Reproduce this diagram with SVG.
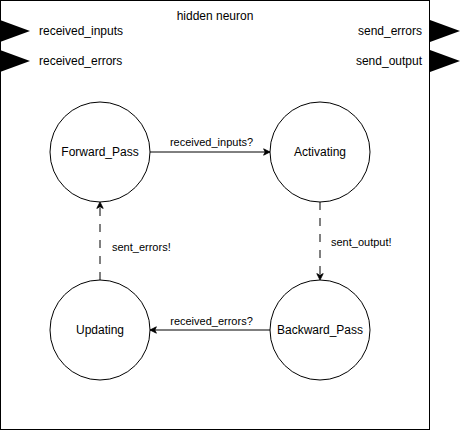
<svg xmlns="http://www.w3.org/2000/svg" width="461" height="431" viewBox="0 0 461 431">
<style>
text{font-family:"Liberation Sans",Arial,sans-serif;fill:#000}
.n{font-size:12px;text-anchor:middle}
.e{font-size:11px}
.st{fill:#fff;stroke:#000;stroke-width:1}
.c{fill:none;stroke:#000;stroke-width:1}
.d{stroke-dasharray:8 8}
</style>
<defs>
<marker id="a" viewBox="0 0 10 10" refX="9" refY="5" markerWidth="8" markerHeight="8" orient="auto" markerUnits="userSpaceOnUse">
<path d="M1,1 L9,5 L1,9 L3,5 Z" fill="#000" stroke="#000" stroke-width="1"/>
</marker>
</defs>
<g id="container">
<rect x="0.5" y="0.5" width="429" height="429" class="st"/>
<text x="215" y="20" class="n">hidden neuron</text>
</g>
<g id="ports">
<polygon points="0,20 30,31 0,42" fill="#000"/>
<text x="39" y="35" style="font-size:12px">received_inputs</text>
<polygon points="0,50 30,61 0,72" fill="#000"/>
<text x="39" y="65" style="font-size:12px">received_errors</text>
<polygon points="430,20 460,31 430,42" fill="#000"/>
<text x="422" y="35" style="font-size:12px;text-anchor:end">send_errors</text>
<polygon points="430,50 460,61 430,72" fill="#000"/>
<text x="422" y="65" style="font-size:12px;text-anchor:end">send_output</text>
</g>
<g id="connectors">
<path d="M150,152 L270,152" class="c" marker-end="url(#a)"/>
<text x="211.5" y="146" class="e" text-anchor="middle">received_inputs?</text>
<path d="M320,202 L320,280" class="c d" marker-end="url(#a)"/>
<text x="331" y="246" class="e">sent_output!</text>
<path d="M270,330 L150,330" class="c" marker-end="url(#a)"/>
<text x="211.5" y="325" class="e" text-anchor="middle">received_errors?</text>
<path d="M100,280 L100,202" class="c d" marker-end="url(#a)"/>
<text x="112" y="251" class="e">sent_errors!</text>
</g>
<g id="forward_pass">
<circle cx="100" cy="152" r="50" class="st"/>
<text x="100" y="156" class="n">Forward_Pass</text>
</g>
<g id="activating">
<circle cx="320" cy="152" r="50" class="st"/>
<text x="320" y="156" class="n">Activating</text>
</g>
<g id="backward_pass">
<circle cx="320" cy="330" r="50" class="st"/>
<text x="320" y="334" class="n">Backward_Pass</text>
</g>
<g id="updating">
<circle cx="100" cy="330" r="50" class="st"/>
<text x="100" y="334" class="n">Updating</text>
</g>
</svg>
